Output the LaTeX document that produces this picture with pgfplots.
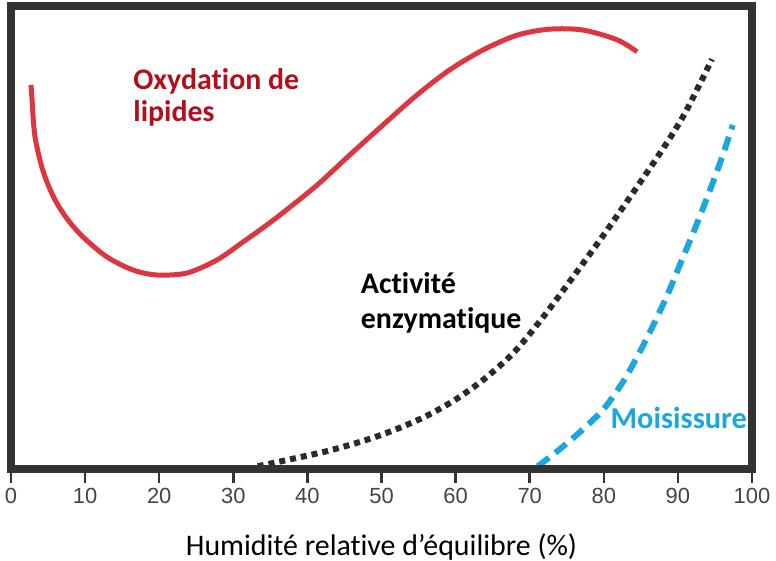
\documentclass[border=0pt]{standalone}
\usepackage{fontspec}
\setmainfont{Carlito}[Ligatures={NoCommon}]
\newfontfamily\arialfont{Liberation Sans}
\usepackage{pgfplots}
\pgfplotsset{compat=1.18}
\definecolor{bordergray}{HTML}{333333}
\definecolor{tickgray}{HTML}{444444}
\definecolor{curvered}{HTML}{DC3641}
\definecolor{labelred}{HTML}{B0101C}
\definecolor{moldblue}{HTML}{1BA7DD}
\definecolor{dotblack}{HTML}{2A2A2A}
\begin{document}
\begin{tikzpicture}
\begin{axis}[
  scale only axis,
  width=741bp, height=463bp,
  xmin=0, xmax=100, ymin=0, ymax=100,
  axis on top,
  axis line style={line width=8bp, color=bordergray},
  xtick={0,10,...,100},
  ytick=\empty,
  xtick pos=left,
  tick align=outside,
  major tick length=14bp,
  every tick/.style={line width=2.5bp, color=bordergray},
  xticklabel style={font=\arialfont\fontsize{22}{26}\selectfont, text=tickgray, yshift=-2bp},
  /pgf/number format/assume math mode=true,
  xlabel={Humidité relative d’équilibre (\%)},
  xlabel style={font=\fontsize{30}{36}\selectfont, at={(axis description cs:0.5,0)}, anchor=base, yshift=-86bp, inner sep=0pt},
  clip=false,
]
\addplot[curvered, line width=5bp, smooth, tension=0.5] coordinates {
(2.70,82.94) (2.87,79.05) (3.01,75.38) (3.24,71.71) (3.68,68.25) (4.28,64.58)
(5.13,60.91) (6.17,57.45) (7.69,53.78) (9.72,50.11) (12.96,45.79) (16.46,42.98)
(19.70,41.90) (23.75,42.33) (27.80,45.14) (31.31,49.03) (33.60,51.62) (36.30,54.86)
(41.3,61.3) (45.7,67.8) (50.2,74.3) (54.8,80.8) (59.2,86.2) (63.7,90.5)
(68.3,93.7) (72.7,95.0) (77.2,94.8) (81.8,92.7) (84.5,90.1)
};
\addplot[dotblack, line width=6bp, dash pattern=on 6bp off 5bp, smooth, tension=0.5] coordinates {
(33.3,0.6) (38,2.2) (43,4.0) (48,6.3) (52,8.6) (56,11.4) (60,15.0) (64,19.6)
(68,25.4) (72,33.2) (76,41.8) (80,50.6) (84,59.8) (88,69.2) (91,77.0) (94.6,88.5)
};
\addplot[moldblue, line width=6bp, dash pattern=on 14bp off 8bp, smooth, tension=0.5] coordinates {
(71.1,0.6) (74,4.2) (77,8.3) (80,13.0) (82.5,18.6) (84.5,24.2) (86.5,30.5)
(88.5,37.3) (90.5,45.0) (92.6,53.1) (94.7,61.8) (96.1,68.0) (97.4,74.3)
};
\node[anchor=base west, inner sep=0pt, text=labelred, font=\bfseries\fontsize{30}{36}\selectfont] at (axis cs:16.5,81.9) {Oxydation de};
\node[anchor=base west, inner sep=0pt, text=labelred, font=\bfseries\fontsize{30}{36}\selectfont] at (axis cs:16.5,75.0) {lipides};
\node[anchor=base west, inner sep=0pt, text=black, font=\bfseries\fontsize{30}{36}\selectfont] at (axis cs:47.2,37.9) {Activité};
\node[anchor=base west, inner sep=0pt, text=black, font=\bfseries\fontsize{30}{36}\selectfont] at (axis cs:47.2,30.4) {enzymatique};
\node[anchor=base west, inner sep=0pt, text=moldblue, font=\bfseries\fontsize{30.5}{36}\selectfont] at (axis cs:80.9,8.8) {Moisissure};
\end{axis}
\path ([shift={(-11bp,-92bp)}]current axis.south west) rectangle ([shift={(24bp,6bp)}]current axis.north east);
\end{tikzpicture}
\end{document}
